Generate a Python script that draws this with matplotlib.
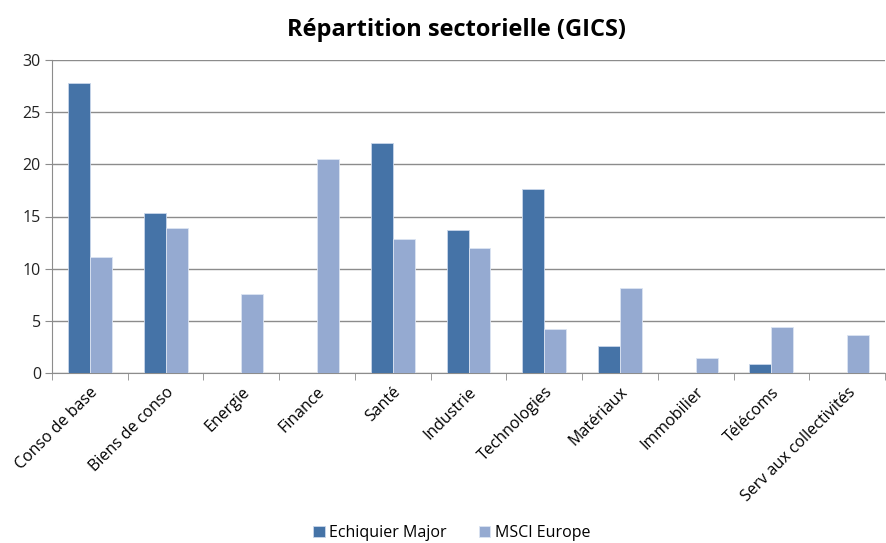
import numpy as np
import matplotlib.pyplot as plt

# data
secteurs = ['Conso de base', 'Biens de conso', 'Energie', 'Finance', 'Santé', 'Industrie',
            'Technologies', 'Matériaux', 'Immobilier', 'Télécoms', 'Serv aux collectivités']
echiquier = [27.8, 15.3, 0, 0, 22.0, 13.7, 17.6, 2.6, 0, 0.9, 0]
msci = [11.1, 13.9, 7.6, 20.5, 12.8, 12.0, 4.2, 8.1, 1.4, 4.4, 3.6]

plt.rcParams['font.family'] = ['Open Sans', 'DejaVu Sans']

fig = plt.figure(figsize=(8.86, 5.43), dpi=100)
ax = fig.add_axes([52/886, 1-373/543, 833/886, 313/543])

x = np.arange(len(secteurs))
w = 0.29
ax.bar(x - w/2, echiquier, w, color='#4573A7', edgecolor='#C9D6EA', linewidth=0.6,
       label='Echiquier Major', zorder=3)
ax.bar(x + w/2, msci, w, color='#95AAD1', edgecolor='#DCE4F2', linewidth=0.6,
       label='MSCI Europe', zorder=3)

ax.set_xlim(-0.5, len(secteurs) - 0.5)
ax.set_ylim(0, 30)
ax.set_yticks(range(0, 31, 5))
ax.yaxis.grid(True, color='#8C8C8C', linewidth=1, zorder=0)
ax.tick_params(axis='y', length=5, color='#8C8C8C', labelsize=11.5, pad=3, labelcolor='#222222')

ax.set_xticks(x)
ax.set_xticklabels(secteurs, rotation=45, ha='right', rotation_mode='anchor', fontsize=11.5)
ax.tick_params(axis='x', which='major', length=0, pad=8)
ax.set_xticks(np.arange(-0.5, len(secteurs), 1), minor=True)
ax.tick_params(axis='x', which='minor', length=5, color='#8C8C8C')

for s in ['top', 'right']:
    ax.spines[s].set_visible(False)
for s in ['left', 'bottom']:
    ax.spines[s].set_color('#8C8C8C')

fig.text(0.515, 1 - 30/543, 'Répartition sectorielle (GICS)', ha='center', va='center',
         fontsize=17, fontweight='bold')

fig.legend(loc='center', bbox_to_anchor=(0.51, 1 - 533/543), ncol=2, frameon=False,
           fontsize=11.5, handlelength=0.7, handleheight=0.7, handletextpad=0.3,
           columnspacing=2.0)

fig.savefig('out.png', dpi=100)
